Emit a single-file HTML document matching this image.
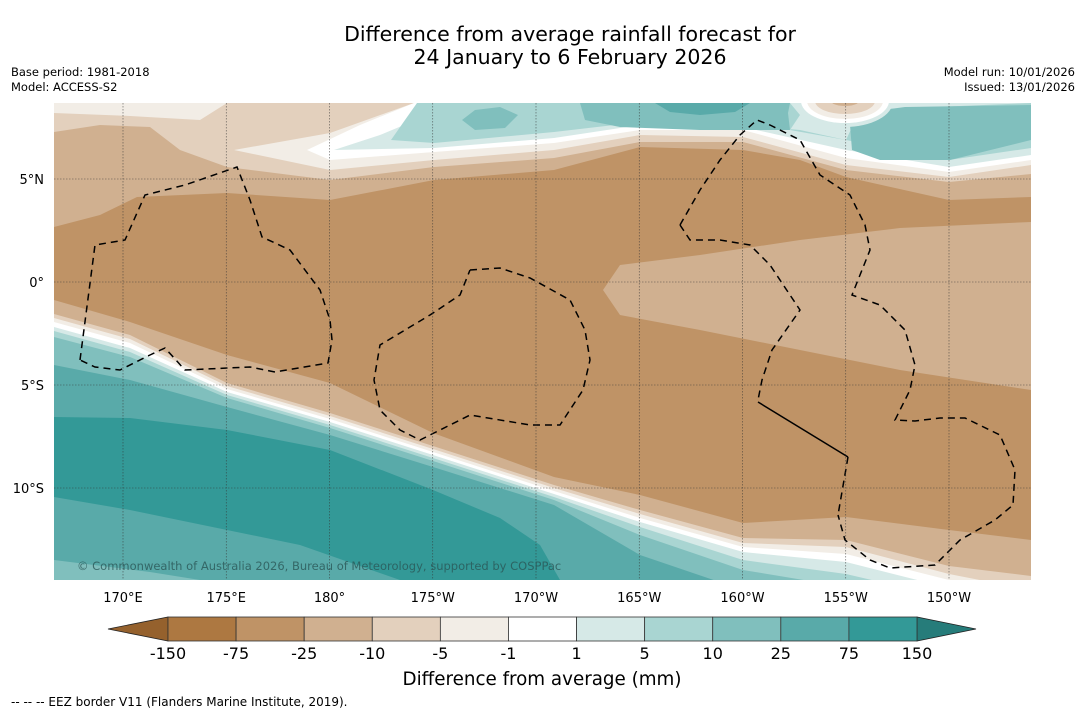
<!DOCTYPE html>
<html><head><meta charset="utf-8"><style>
html,body{margin:0;padding:0;background:#fff;}
body{width:1085px;height:713px;overflow:hidden;font-family:"DejaVu Sans","Liberation Sans",sans-serif;}
svg text{font-family:"DejaVu Sans","Liberation Sans",sans-serif;}
</style></head><body>
<svg id="chart" width="1085" height="713" viewBox="0 0 1085 713" xmlns="http://www.w3.org/2000/svg">
<text x="570" y="41" font-size="20.5" text-anchor="middle" fill="#000">Difference from average rainfall forecast for</text>
<text x="570" y="64" font-size="20.5" text-anchor="middle" fill="#000">24 January to 6 February 2026</text>
<text x="11" y="76" font-size="11.5">Base period: 1981-2018</text>
<text x="11" y="91" font-size="11.5">Model: ACCESS-S2</text>
<text x="1075" y="76" font-size="11.5" text-anchor="end">Model run: 10/01/2026</text>
<text x="1075" y="91" font-size="11.5" text-anchor="end">Issued: 13/01/2026</text>
<defs><clipPath id="mc"><rect x="54" y="103" width="977" height="477"/></clipPath></defs>
<g id="map" clip-path="url(#mc)">
<rect x="54" y="103" width="977" height="477" fill="#bf9366"/>
<g id="bands"></g>
<g id="eez" fill="none" stroke="#000" stroke-width="1.5" stroke-dasharray="7,5">
<polyline points="80,360 95,245 125,240 145,195 185,185 237,167 250,200 262,237 290,250 320,290 330,320 332,340 328,363 275,372 250,367 185,370 165,348 150,355 120,370 95,367 80,360"/>
<polyline points="470,270 500,268 530,278 570,300 585,330 590,360 583,390 560,425 530,425 470,415 420,440 400,430 380,410 374,380 380,345 430,315 460,295 470,270"/>
<polyline points="680,225 700,190 720,160 740,135 757,120 770,125 800,140 820,175 850,195 865,225 870,250 852,295 880,305 905,330 915,365 910,390 895,420 915,421 940,418 965,418 1000,435 1015,470 1013,505 995,520 960,540 935,565 890,568 870,560 845,540 838,515"/>
<polyline points="680,225 690,240 720,240 750,245 770,265 800,310 772,350 762,380 758,400"/>
<polyline points="758,402 848,457" stroke-dasharray="none"/>
<polyline points="848,457 838,515"/>
</g>
<g id="grid"></g>
<text x="77" y="570" font-size="11.5" fill="#2a5656" fill-opacity="0.8">© Commonwealth of Australia 2026, Bureau of Meteorology, supported by COSPPac</text>
</g>
<g id="axes"></g>
<g id="cbar"></g>
<text x="542" y="685" font-size="18.3" text-anchor="middle">Difference from average (mm)</text>
<text x="11" y="706" font-size="12">--  --  -- EEZ border V11 (Flanders Marine Institute, 2019).</text>
</svg>
<script>
const NS="http://www.w3.org/2000/svg";
const lonTicks=["170°E","175°E","180°","175°W","170°W","165°W","160°W","155°W","150°W"];
const lonValues=[170,175,180,185,190,195,200,205,210];
const latTicks=["5°N","0°","5°S","10°S"];
const latValues=[5,0,-5,-10];
const cbLevels=["-150","-75","-25","-10","-5","-1","1","5","10","25","75","150"];
const cbColors=["#ad7841","#bf9366","#d0b090","#e3d0bd","#f2ede6","#ffffff","#d6e9e7","#a9d5d2","#80bfbd","#59aaa9","#339997"];
const cbUnder="#95612d", cbOver="#267c7a";
const xLon=l=>123+(l-170)*(826/40);
const yLat=l=>282-l*20.6;
function mk(tag,attrs,parent){const e=document.createElementNS(NS,tag);for(const k in attrs)e.setAttribute(k,attrs[k]);parent.appendChild(e);return e;}
const bands=document.getElementById('bands');
const XS=[54,130,227,330,433,554,640,743,846,949,1031];
function below(ys,col,name){let p=XS.map((x,i)=>x+','+ys[i]).join(' ')+' 1031,640 54,640';const e=mk('polygon',{points:p,fill:col},bands);

}
function poly(p,col,name){const e=mk('polygon',{points:p,fill:col},bands);

}
poly("54,103 1031,103 1031,197 949,200 846,177 800,160 743,150 640,147 554,170 434,180 330,200 227,193 137,197 100,215 54,227","#d0b090","band-top-tan");
poly("54,103 1031,103 1031,174 949,182 846,170 743,142 640,142 554,158 434,167 330,180 227,167 180,150 150,127 100,125 54,132","#e3d0bd","band-top-lightbrown");
poly("54,103 227,103 200,120 130,116 54,113","#f2ede6","band-top-left-cream");
poly("234,150 330,133 414,103 1031,103 1031,165 949,177 846,165 743,137 640,135 554,150 434,160 330,170","#f2ede6","band-top-cream");
poly("307,150 360,125 414,103 1031,103 1031,160 949,172 846,158 743,130 640,130 554,143 434,152 330,160","#ffffff","band-top-white");
poly("334,150 380,135 440,110 470,103 1031,103 1031,155 949,167 846,150 743,127 640,125 554,138 434,148","#d6e9e7","band-top-teal1");
poly("391,140 405,120 417,103 790,103 800,115 790,130 846,140 860,110 1031,103 1031,148 949,160 846,140 800,130 743,125 640,122 554,132 434,143","#a9d5d2","band-top-teal2");
poly("462,120 475,110 500,107 518,115 505,128 475,130","#80bfbd","patch-teal3-a");
poly("580,103 790,103 788,113 790,130 700,130 620,127 585,120","#80bfbd","patch-teal3-b");
poly("850,125 860,113 905,107 1031,105 1031,140 950,160 880,160 852,150","#80bfbd","patch-teal3-c");
poly("655,103 750,103 735,112 700,115 670,112","#59aaa9","patch-teal4");
[[48,26,"#d6e9e7"],[44,22,"#ffffff"],[38,18,"#f2ede6"],[30,13,"#e3d0bd"],[14,5,"#d0b090"]].forEach((r,i)=>{const e=mk('ellipse',{cx:845,cy:101,rx:r[0],ry:r[1],fill:r[2]},bands);

});
poly("603,290 620,265 700,255 800,240 900,228 1031,222 1031,390 900,370 800,350 700,330 620,315","#d0b090","band-mid-tan");
below([300,322,355,383,433,477,495,523,517,530,540],"#d0b090","band-bottom-tan");
below([314,335,383,413,446,485,510,538,540,566,576],"#e3d0bd","band-bottom-lightbrown");
below([318,339,386,416,449,488,514,543,547,574,590],"#f2ede6","band-bottom-cream");
below([322,343,389,419,452,491,518,547,554,580,598],"#ffffff","band-bottom-white");
below([327,348,392,422,455,494,522,552,562,588,606],"#d6e9e7","band-bottom-teal1");
below([331,352,395,425,458,497,527,560,574,598,615],"#a9d5d2","band-bottom-teal2");
below([337,357,398,428,461,500,535,570,587,610,620],"#80bfbd","band-bottom-teal3");
below([365,380,407,435,467,505,555,590,615,625,630],"#59aaa9","band-bottom-teal4");
poly("54,417 130,418 227,430 330,450 433,490 500,518 540,545 560,580 400,580 300,545 227,530 130,510 54,497","#339997","band-bottom-teal5");
poly("54,560 150,572 200,580 54,580","#80bfbd","band-bottom-left-teal3");
const grid=document.getElementById('grid');
lonValues.forEach((v,i)=>{const e=mk('line',{x1:xLon(v),x2:xLon(v),y1:103,y2:580,stroke:'#333','stroke-width':0.6,'stroke-dasharray':'1.5,1.5','stroke-opacity':0.8},grid);

});
latValues.forEach((v,i)=>{const e=mk('line',{x1:54,x2:1031,y1:yLat(v),y2:yLat(v),stroke:'#333','stroke-width':0.6,'stroke-dasharray':'1.5,1.5','stroke-opacity':0.8},grid);

});
const axes=document.getElementById('axes');
lonValues.forEach((v,i)=>{const t=mk('text',{x:xLon(v),y:602,'font-size':13,'text-anchor':'middle'},axes);t.textContent=lonTicks[i];

});
latValues.forEach((v,i)=>{const t=mk('text',{x:44,y:yLat(v)+5,'font-size':13,'text-anchor':'end'},axes);t.textContent=latTicks[i];

});
const cb=document.getElementById('cbar');
const cx0=168,cx1=917,cy0=617,cy1=641,bw=(cx1-cx0)/cbColors.length;
const u=mk('polygon',{points:`108,629 ${cx0},${cy0} ${cx0},${cy1}`,fill:cbUnder,stroke:'#222','stroke-width':0.8},cb);


const o=mk('polygon',{points:`976,629 ${cx1},${cy0} ${cx1},${cy1}`,fill:cbOver,stroke:'#222','stroke-width':0.8},cb);


cbColors.forEach((c,i)=>{const r=mk('rect',{x:cx0+i*bw,y:cy0,width:bw,height:cy1-cy0,fill:c,stroke:'#333','stroke-width':0.8},cb);

});
cbLevels.forEach((l,i)=>{const t=mk('text',{x:cx0+i*bw,y:659,'font-size':16,'text-anchor':'middle'},cb);t.textContent=l;

});
</script>
</body></html>
